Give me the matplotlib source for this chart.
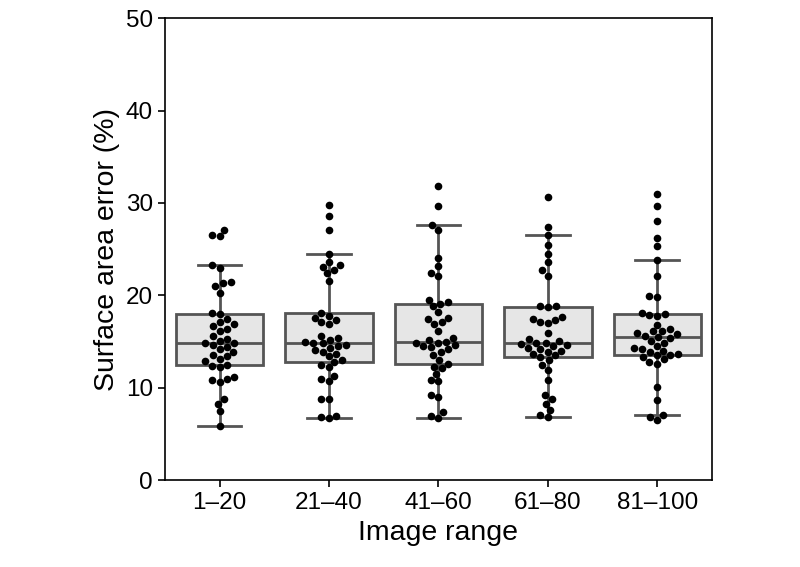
import numpy as np
import pandas as pd
import matplotlib
matplotlib.use("Agg")
import matplotlib.pyplot as plt
import seaborn as sns

# image ranges on the x axis
ranges = ["1–20", "21–40", "41–60", "61–80", "81–100"]

# surface area error (%) per image range
err_1_20 = [27.1, 26.5, 26.4, 23.3, 23.0, 21.4, 21.3, 21.0, 20.3, 18.1, 18.0,
            17.4, 17.1, 16.9, 16.7, 16.4, 16.2, 15.6, 15.3, 15.1, 14.9,
            14.8, 14.6, 14.4, 14.2, 13.9, 13.6, 13.4, 13.1, 12.9, 12.5,
            12.4, 12.2, 11.2, 11.0, 10.8, 10.6, 8.8, 8.3, 7.5, 5.9]
err_21_40 = [29.8, 28.6, 27.1, 24.5, 23.6, 23.3, 23.1, 22.7, 22.4, 21.6, 18.1,
             17.8, 17.6, 17.3, 17.1, 16.9, 15.6, 15.4, 15.2, 15.0, 14.9,
             14.8, 14.6, 14.5, 14.3, 14.1, 13.9, 13.7, 13.4, 13.0, 12.8,
             12.5, 12.2, 11.3, 11.0, 10.7, 8.8, 8.8, 7.0, 6.8, 6.7]
err_41_60 = [31.8, 29.7, 27.6, 27.1, 24.1, 23.2, 22.4, 22.1, 19.5, 19.3, 19.1,
             18.8, 18.2, 17.6, 17.4, 17.1, 16.9, 16.2, 15.4, 15.2, 15.0,
             14.9, 14.8, 14.6, 14.5, 14.4, 14.2, 13.9, 13.6, 13.0, 12.6,
             12.3, 12.1, 11.5, 10.9, 10.7, 9.2, 9.0, 7.4, 7.0, 6.7]
err_61_80 = [30.7, 27.4, 26.5, 25.4, 24.5, 23.6, 22.7, 22.1, 18.9, 18.8, 18.7,
             17.7, 17.5, 17.3, 17.1, 17.0, 15.9, 15.3, 15.1, 14.9, 14.8,
             14.7, 14.6, 14.5, 14.3, 14.2, 14.0, 13.9, 13.7, 13.5, 13.3,
             13.0, 12.5, 11.9, 10.8, 9.2, 8.8, 8.3, 7.6, 7.1, 6.8]
err_81_100 = [31.0, 29.7, 28.0, 26.2, 25.3, 23.8, 22.1, 19.9, 19.8, 18.1, 18.0,
              17.9, 17.8, 16.8, 16.4, 16.2, 16.1, 15.9, 15.8, 15.6, 15.5,
              15.4, 15.1, 14.9, 14.5, 14.3, 14.2, 14.0, 13.9, 13.7, 13.6,
              13.5, 13.3, 13.1, 12.8, 12.6, 10.1, 8.7, 7.1, 6.8, 6.5]

groups = [err_1_20, err_21_40, err_41_60, err_61_80, err_81_100]
df = pd.DataFrame({
    "range": np.repeat(ranges, [len(g) for g in groups]),
    "error": np.concatenate(groups),
})

plt.rcParams["font.family"] = ["Liberation Sans", "DejaVu Sans"]

fig = plt.figure(figsize=(8, 5.67), dpi=100)
ax = fig.add_axes([0.206, 0.153, 0.684, 0.815])

sns.boxplot(data=df, x="range", y="error", order=ranges, color="#e6e6e6",
            linecolor="#555555", linewidth=2, showfliers=False, width=0.8,
            saturation=1, ax=ax)
sns.swarmplot(data=df, x="range", y="error", order=ranges, color="black",
              size=5.5, ax=ax)

ax.set_ylim(0, 50)
ax.set_yticks([0, 10, 20, 30, 40, 50])
ax.set_xlabel("Image range", fontsize=20.5)
ax.set_ylabel("Surface area error (%)", fontsize=20.5)
ax.tick_params(labelsize=17.5, length=5, width=1.2)
for s in ax.spines.values():
    s.set_linewidth(1.2)
    s.set_color("black")

fig.savefig("out.png", dpi=100)
